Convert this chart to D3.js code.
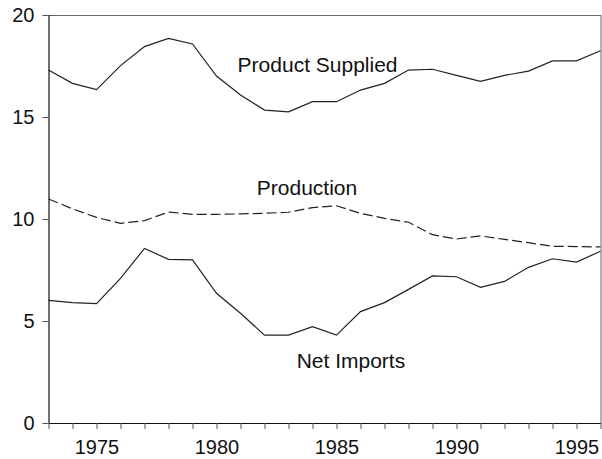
<!DOCTYPE html>
<html>
<head>
<meta charset="utf-8">
<script src="https://cdn.jsdelivr.net/npm/d3@7"></script>
<style>
  html, body { margin: 0; padding: 0; background: #fff; }
  svg { display: block; font-family: "Liberation Sans", Arial, sans-serif; }
</style>
</head>
<body>
<svg id="chart" width="602" height="459"></svg>
<script>
// Petroleum balance, million barrels per day
const years = d3.range(1973, 1997);
const productSupplied = [17.30, 16.65, 16.34, 17.52, 18.45, 18.85, 18.58, 17.01, 16.08, 15.34, 15.25, 15.75,
                         15.75, 16.32, 16.65, 17.30, 17.34, 17.04, 16.75, 17.04, 17.25, 17.75, 17.75, 18.25];
const production      = [10.98, 10.50, 10.08, 9.79, 9.92, 10.34, 10.23, 10.23, 10.25, 10.28, 10.33, 10.56,
                         10.65, 10.28, 10.03, 9.84, 9.23, 9.02, 9.17, 9.00, 8.84, 8.66, 8.65, 8.63];
const netImports      = [6.01, 5.90, 5.85, 7.09, 8.56, 8.02, 8.00, 6.36, 5.38, 4.31, 4.31, 4.72,
                         4.31, 5.46, 5.90, 6.55, 7.21, 7.17, 6.65, 6.94, 7.63, 8.05, 7.89, 8.42];
const yTicks = [0, 5, 10, 15, 20];
const seriesLabels = ["Product Supplied", "Production", "Net Imports"];

const svg = d3.select("#chart");
const plotLeft = 48.5, plotRight = 600.5, plotTop = 15, plotBottom = 423;

const x = d3.scaleLinear().domain([1973, 1996]).range([plotLeft, plotRight]);
const y = d3.scaleLinear().domain([0, 20]).range([plotBottom, plotTop]);

// Frame: top and right edges
svg.append("path")
  .attr("d", `M${plotLeft},${plotTop + 0.5}H${plotRight + 0.5}V${plotBottom}`)
  .attr("fill", "none").attr("stroke", "#666").attr("stroke-width", 1);

// Axes
const xAxis = d3.axisBottom(x)
  .tickValues(years)
  .tickSize(6)
  .tickPadding(11)
  .tickFormat(d => d % 5 === 0 ? String(d) : "");
const gx = svg.append("g").attr("transform", `translate(0,${plotBottom})`).call(xAxis);

const yAxis = d3.axisLeft(y)
  .tickValues(yTicks)
  .tickSize(6)
  .tickPadding(8)
  .tickFormat(d3.format("d"));
const gy = svg.append("g").attr("transform", `translate(${plotLeft},0)`).call(yAxis);

[gx, gy].forEach(g => {
  g.select(".domain").attr("stroke", "#111").attr("stroke-width", 1.2);
  g.selectAll(".tick line").attr("stroke", "#555");
  g.selectAll(".tick text").attr("fill", "#111")
    .style("font-size", "20px")
    .style("font-family", "'Liberation Sans', Arial, sans-serif");
});
gx.select(".domain").attr("d", `M${plotLeft},0.5H${plotRight + 0.5}`);
gy.select(".domain").attr("d", `M0.5,${plotTop}V${plotBottom}`);

// Series lines
const line = d3.line().x((d, i) => x(years[i])).y(d => y(d));
const series = [
  { values: productSupplied, dash: null },
  { values: production, dash: "10,4" },
  { values: netImports, dash: null }
];
series.forEach(s => {
  svg.append("path")
    .datum(s.values)
    .attr("d", line)
    .attr("fill", "none")
    .attr("stroke", "#222")
    .attr("stroke-width", 1.2)
    .attr("stroke-dasharray", s.dash);
});

// Series labels
const labelPos = [
  { x: 1980.88, y: 17.2 },
  { x: 1981.68, y: 11.2 },
  { x: 1983.34, y: 2.68 }
];
seriesLabels.forEach((t, i) => {
  svg.append("text")
    .attr("x", x(labelPos[i].x))
    .attr("y", y(labelPos[i].y))
    .attr("fill", "#111")
    .style("font-size", "21px")
    .text(t);
});
</script>
</body>
</html>
